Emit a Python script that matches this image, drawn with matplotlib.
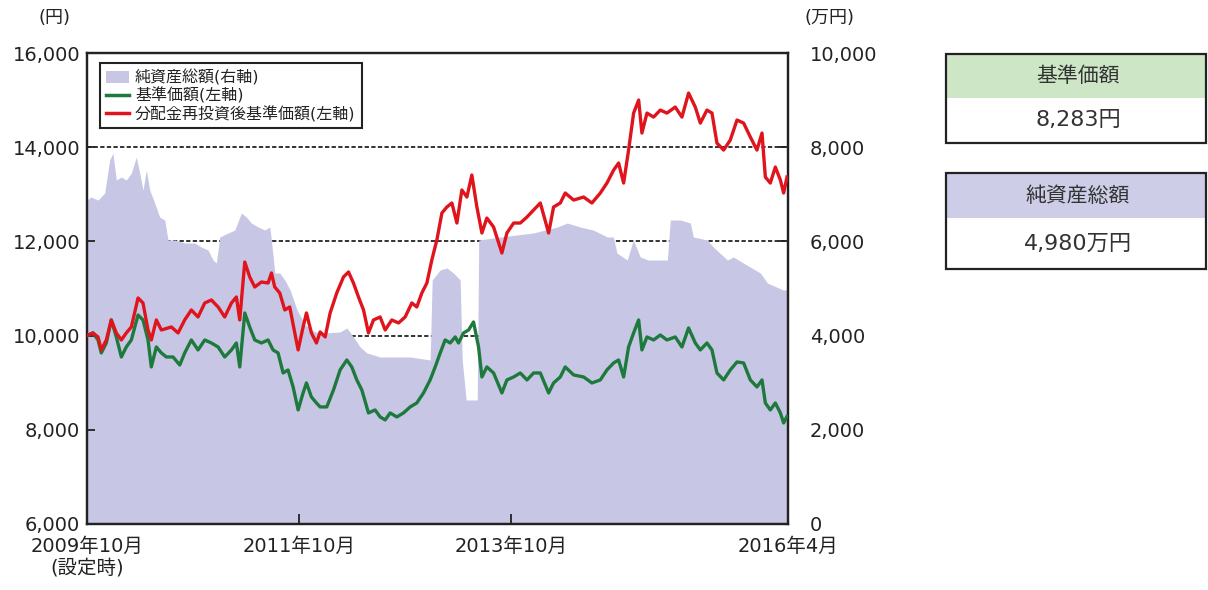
import matplotlib
matplotlib.use("Agg")
import matplotlib.pyplot as plt
from matplotlib.patches import Rectangle, Patch
from matplotlib.lines import Line2D

plt.rcParams['font.family'] = ['DejaVu Sans', 'Noto Sans CJK JP']

# months since launch (0 = 2009年10月)
nav_m = [0.0, 0.68, 1.25, 1.62, 2.19, 2.75, 3.32, 3.89, 4.45, 5.02, 5.78, 6.34, 6.91, 7.28,
         7.85, 8.42, 8.98, 9.74, 10.50, 11.06, 11.81, 12.57, 13.33, 14.08, 14.84, 15.59,
         16.35, 16.91, 17.29, 17.86, 18.42, 18.99, 19.74, 20.50, 21.06, 21.63, 22.20, 22.76,
         23.33, 23.90, 24.46, 24.84, 25.40, 25.97, 26.39, 27.14, 27.90, 28.65, 29.41, 29.97,
         30.54, 31.11, 31.86, 32.61, 33.18, 33.75, 34.31, 35.07, 35.82, 36.58, 37.33, 38.09,
         38.84, 39.41, 39.98, 40.54, 41.11, 41.68, 42.05, 42.62, 43.19, 43.75, 44.32, 44.70,
         45.26, 46.02, 46.96, 47.53, 48.29, 49.04, 49.80, 50.55, 51.31, 52.25, 52.81, 53.57,
         54.13, 55.08, 56.21, 57.15, 58.10, 58.85, 59.61, 60.17, 60.74, 61.30, 61.87, 62.44,
         62.81, 63.38, 64.13, 64.89, 65.64, 66.58, 67.34, 68.09, 68.85, 69.42, 70.17, 70.74,
         71.30, 72.06, 72.81, 73.57, 74.32, 75.08, 75.83, 76.40, 76.78, 77.34, 77.91, 78.48,
         78.85, 79.23]
nav = [10000, 10056, 9907, 9631, 9843, 10332, 9971, 9546, 9758, 9907, 10438, 10332, 9907, 9334,
       9758, 9631, 9546, 9546, 9376, 9631, 9907, 9695, 9907, 9843, 9758, 9546,
       9695, 9843, 9334, 10480, 10183, 9907, 9843, 9907, 9695, 9631, 9206, 9270,
       8909, 8421, 8782, 8994, 8697, 8569, 8485, 8485, 8845, 9270, 9482, 9334,
       9058, 8845, 8357, 8421, 8272, 8209, 8357, 8272, 8357, 8485, 8569, 8782,
       9058, 9334, 9631, 9907, 9843, 9971, 9843, 10056, 10119, 10289, 9758, 9121,
       9334, 9206, 8782, 9058, 9121, 9206, 9058, 9206, 9206, 8782, 8994, 9121,
       9334, 9164, 9121, 8994, 9058, 9270, 9419, 9482, 9121, 9758, 10056, 10332,
       9695, 9971, 9907, 10013, 9907, 9971, 9758, 10162, 9843, 9695, 9843, 9695,
       9206, 9058, 9270, 9440, 9419, 9058, 8909, 9058, 8569, 8421, 8569, 8357,
       8145, 8283]

reinv_m = [0.0, 0.68, 1.25, 1.62, 2.19, 2.75, 3.32, 3.89, 4.45, 5.02, 5.78, 6.34, 6.91, 7.28,
           7.85, 8.42, 9.55, 10.31, 11.06, 11.81, 12.57, 13.33, 14.08, 14.84, 15.59, 16.35,
           16.91, 17.29, 17.86, 18.42, 18.99, 19.74, 20.50, 20.88, 21.25, 21.82, 22.39, 22.95,
           23.52, 23.90, 24.46, 24.84, 25.40, 25.97, 26.39, 26.96, 27.52, 28.27, 29.03, 29.60,
           30.16, 30.73, 31.30, 31.86, 32.43, 33.18, 33.75, 34.50, 35.26, 36.01, 36.77, 37.33,
           37.90, 38.47, 39.03, 39.60, 40.17, 40.73, 41.30, 41.87, 42.43, 43.00, 43.56, 44.13,
           44.70, 45.26, 46.02, 46.96, 47.53, 48.29, 49.04, 49.80, 50.55, 51.31, 52.25, 52.81,
           53.57, 54.13, 55.08, 56.21, 57.15, 58.10, 58.85, 59.61, 60.17, 60.74, 61.30, 61.87,
           62.44, 62.81, 63.38, 64.13, 64.89, 65.64, 66.58, 67.34, 68.09, 68.85, 69.42, 70.17,
           70.74, 71.30, 72.06, 72.81, 73.57, 74.32, 75.08, 75.83, 76.40, 76.78, 77.34, 77.91,
           78.48, 78.85, 79.23]
reinv = [10000, 10056, 9971, 9695, 9907, 10332, 10056, 9907, 10056, 10183, 10799, 10693, 10119, 9907,
         10332, 10119, 10183, 10056, 10332, 10544, 10395, 10693, 10756, 10608, 10395, 10693,
         10820, 10332, 11563, 11245, 11032, 11138, 11117, 11330, 11032, 10905, 10544, 10608,
         10056, 9695, 10183, 10480, 10056, 9843, 10077, 9971, 10480, 10905, 11245, 11351,
         11117, 10820, 10544, 10056, 10332, 10395, 10119, 10332, 10268, 10395, 10693, 10608,
         10905, 11117, 11606, 12030, 12603, 12731, 12816, 12391, 13092, 12943, 13410, 12731,
         12179, 12497, 12306, 11754, 12179, 12391, 12391, 12518, 12667, 12816, 12179, 12731,
         12816, 13028, 12879, 12943, 12816, 13028, 13240, 13516, 13665, 13240, 13941, 14726,
         15002, 14302, 14726, 14641, 14790, 14726, 14854, 14641, 15151, 14854, 14514, 14790,
         14726, 14089, 13941, 14153, 14578, 14514, 14217, 13941, 14302, 13367, 13240, 13580,
         13304, 13028, 13367]

aum_m = [0.0, 0.45, 1.25, 2.0, 2.57, 2.94, 3.32, 3.88, 4.45, 5.02, 5.58, 5.97, 6.34, 6.72,
         7.10, 7.67, 8.23, 8.80, 9.17, 9.93, 11.06, 12.20, 12.94, 13.70, 14.27, 14.64,
         15.03, 15.97, 16.73, 17.47, 18.04, 18.61, 19.37, 20.12, 20.69, 20.87, 21.26, 21.82,
         22.39, 22.99, 23.78, 24.69, 25.82, 26.95, 28.65, 29.41, 30.16, 30.92, 31.68, 33.18,
         36.58, 38.84, 39.07, 39.98, 40.74, 41.48, 42.24, 42.47, 42.92, 44.17, 44.34, 46.77,
         50.51, 53.23, 54.36, 55.83, 57.30, 58.89, 59.57, 59.99, 61.15, 61.83, 62.63, 63.53,
         65.69, 66.02, 67.16, 68.29, 68.63, 70.21, 70.89, 72.48, 73.16, 74.29, 76.22, 77.01,
         78.82, 79.3]
aum = [6879, 6943, 6879, 7028, 7728, 7877, 7304, 7367, 7304, 7452, 7792, 7452, 7091, 7516,
       7091, 6815, 6518, 6455, 6030, 6030, 5966, 5966, 5881, 5818, 5605, 5542,
       6094, 6179, 6242, 6603, 6518, 6391, 6306, 6242, 6306, 6030, 5329, 5329,
       5181, 4968, 4544, 4225, 4077, 4056, 4077, 4162, 3971, 3758, 3631, 3546,
       3546, 3482, 5181, 5393, 5436, 5329, 5181, 3482, 2633, 2633, 6030, 6094,
       6179, 6306, 6391, 6306, 6242, 6094, 6094, 5754, 5605, 6030, 5669, 5605,
       5605, 6455, 6455, 6391, 6094, 6030, 5881, 5605, 5669, 5542, 5329, 5117,
       4968, 4980]

x_ticks = [0, 24, 48, 79.3]
x_labels = ['2009年10月\n(設定時)', '2011年10月', '2013年10月', '2016年4月']
left_ticks = [6000, 8000, 10000, 12000, 14000, 16000]
right_ticks = [0, 2000, 4000, 6000, 8000, 10000]

fill_c = '#c7c7e5'
green_c = '#1d7a3c'
red_c = '#e0141c'
txt_c = '#222222'

fig = plt.figure(figsize=(12.08, 5.90), dpi=100)
ax1 = fig.add_axes([0.072, 0.112, 0.580, 0.798])
ax2 = ax1.twinx()
ax1.set_zorder(ax2.get_zorder() + 1)
ax1.patch.set_visible(False)

# net assets (right axis) underneath
ax2.fill_between(aum_m, 0, aum, color=fill_c, linewidth=0, zorder=2)
ax2.set_ylim(0, 10000)
ax2.set_yticks(right_ticks)
ax2.set_yticklabels([f'{v:,}' for v in right_ticks])
ax2.set_axisbelow(True)
ax2.yaxis.grid(True, color='#333333', linestyle=(0, (2.2, 1.2)), linewidth=1.4)

ax1.plot(nav_m, nav, color=green_c, linewidth=2.4, zorder=3)
ax1.plot(reinv_m, reinv, color=red_c, linewidth=2.4, zorder=4)
ax1.set_ylim(6000, 16000)
ax1.set_xlim(0, 79.3)
ax1.set_yticks(left_ticks)
ax1.set_yticklabels([f'{v:,}' for v in left_ticks])
ax1.set_xticks(x_ticks)
ax1.set_xticklabels(x_labels)

for ax in (ax1, ax2):
    for s in ax.spines.values():
        s.set_linewidth(1.6)
        s.set_color('#222222')
ax1.tick_params(axis='y', direction='in', length=6, width=1.3, labelsize=14, pad=5, colors=txt_c)
ax1.tick_params(axis='x', direction='in', length=7, width=1.3, labelsize=14, pad=9, colors=txt_c)
ax2.tick_params(axis='y', direction='in', length=7, width=1.3, labelsize=14, pad=16, colors=txt_c)

handles = [Patch(facecolor=fill_c, edgecolor='none'),
           Line2D([], [], color=green_c, linewidth=2.5),
           Line2D([], [], color=red_c, linewidth=2.5)]
labels = ['純資産総額(右軸)', '基準価額(左軸)', '分配金再投資後基準価額(左軸)']
leg = ax1.legend(handles, labels, loc='upper left', bbox_to_anchor=(0.0185, 0.979),
                 borderaxespad=0, fontsize=11.5, frameon=True, fancybox=False,
                 handlelength=1.4, handleheight=0.8, handletextpad=0.4, labelspacing=0.12,
                 borderpad=0.4, framealpha=1)
leg.get_frame().set_edgecolor('#222222')
leg.get_frame().set_linewidth(1.5)
for t in leg.get_texts():
    t.set_color(txt_c)

fig.text(55 / 1208, 1 - 18 / 590, '(円)', ha='center', va='center', fontsize=13, color=txt_c)
fig.text(830 / 1208, 1 - 18 / 590, '(万円)', ha='center', va='center', fontsize=13, color=txt_c)

# summary boxes on the right
W, H = 1208, 590


def summary_box(top, head_bottom, bottom, head_color, title, value):
    x0, x1 = 946, 1206
    fig.patches.append(Rectangle((x0 / W, 1 - head_bottom / H), (x1 - x0) / W, (head_bottom - top) / H,
                                 transform=fig.transFigure, facecolor=head_color, edgecolor='none'))
    fig.patches.append(Rectangle((x0 / W, 1 - bottom / H), (x1 - x0) / W, (bottom - top) / H,
                                 transform=fig.transFigure, facecolor='none', edgecolor='#222222',
                                 linewidth=1.6))
    cx = 1078 / W
    fig.text(cx, 1 - (top + head_bottom) / 2 / H, title, ha='center', va='center',
             fontsize=15, color='#333333')
    fig.text(cx, 1 - (head_bottom + bottom) / 2 / H, value, ha='center', va='center',
             fontsize=16, color='#333333')


summary_box(54, 98, 143, '#cde6c6', '基準価額', '8,283円')
summary_box(173, 218, 269, '#cdcde8', '純資産総額', '4,980万円')

fig.savefig('out.png', dpi=100)
